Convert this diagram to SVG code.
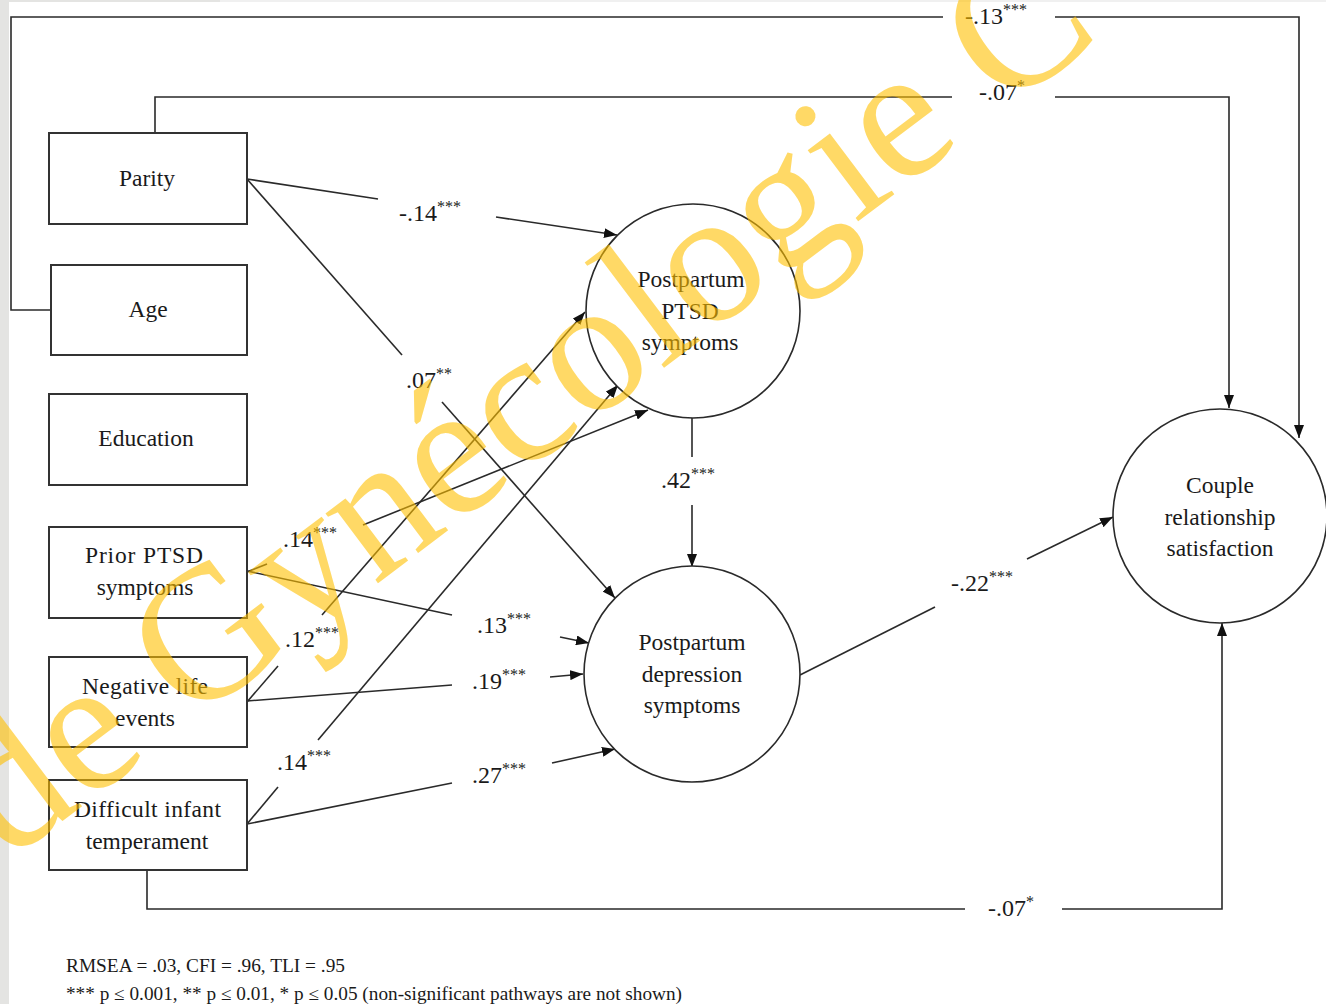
<svg xmlns="http://www.w3.org/2000/svg" width="1326" height="1004" viewBox="0 0 1326 1004">
<style>
.box{fill:#fff;stroke:#333;stroke-width:2}
.circ{fill:#fff;stroke:#2a2a2a;stroke-width:1.6}
.ln{fill:none;stroke:#2a2a2a;stroke-width:1.6}
.t{font-family:"Liberation Serif","Times New Roman",serif;font-size:23.5px;fill:#1a1a1a}
.c{text-anchor:middle}
.lab{font-family:"Liberation Serif","Times New Roman",serif;font-size:24px;fill:#1a1a1a}
.sup{font-size:16px}
.foot{font-family:"Liberation Serif","Times New Roman",serif;font-size:18px;fill:#1a1a1a}
.wm{font-family:"Liberation Serif","Times New Roman",serif;font-size:190px;fill:#FFC000;fill-opacity:0.6}
</style>
<defs>
<marker id="ah" markerUnits="userSpaceOnUse" markerWidth="14" markerHeight="10" refX="13" refY="5" orient="auto">
<path d="M0,0 L13,5 L0,10 z" fill="#111"/>
</marker>
</defs>
<rect width="1326" height="1004" fill="#fff"/>
<rect x="0" y="0" width="1326" height="2" fill="#f0f0f0"/>
<rect x="0" y="0" width="220" height="2" fill="#e4e4e2"/>
<rect x="0" y="0" width="9" height="1004" fill="#e4e4e2"/>

<g id="connectors">
<!-- Age -> Couple -->
<polyline class="ln" points="51,310 11,310 11,17 943,17"/>
<polyline class="ln" points="1055,17 1299,17 1299,438" marker-end="url(#ah)"/>
<!-- Parity -> Couple -->
<polyline class="ln" points="155,133 155,97 952,97"/>
<polyline class="ln" points="1055,97 1229,97 1229,408" marker-end="url(#ah)"/>
<!-- Parity -> PTSD -->
<line class="ln" x1="247" y1="179" x2="378" y2="199"/>
<line class="ln" x1="496" y1="217" x2="617" y2="235" marker-end="url(#ah)"/>
<!-- Parity -> Depression -->
<line class="ln" x1="247" y1="179" x2="402" y2="355"/>
<line class="ln" x1="442" y1="402" x2="615" y2="598" marker-end="url(#ah)"/>
<!-- PTSD -> Depression -->
<line class="ln" x1="692" y1="418" x2="692" y2="457"/>
<line class="ln" x1="692" y1="505" x2="692" y2="567" marker-end="url(#ah)"/>
<!-- Prior PTSD -> PTSD -->
<line class="ln" x1="247" y1="572" x2="267" y2="564"/>
<line class="ln" x1="363" y1="525" x2="648" y2="410" marker-end="url(#ah)"/>
<!-- Prior PTSD -> Depression -->
<line class="ln" x1="247" y1="571" x2="452" y2="615"/>
<line class="ln" x1="560" y1="637" x2="589" y2="643" marker-end="url(#ah)"/>
<!-- Negative life -> PTSD -->
<line class="ln" x1="247" y1="702" x2="278" y2="666"/>
<line class="ln" x1="322" y1="615" x2="585" y2="312" marker-end="url(#ah)"/>
<!-- Negative life -> Depression -->
<line class="ln" x1="247" y1="701" x2="452" y2="685"/>
<line class="ln" x1="550" y1="677" x2="583" y2="674" marker-end="url(#ah)"/>
<!-- Difficult -> PTSD -->
<line class="ln" x1="247" y1="824" x2="278" y2="787"/>
<line class="ln" x1="318" y1="740" x2="618" y2="385" marker-end="url(#ah)"/>
<!-- Difficult -> Depression -->
<line class="ln" x1="247" y1="824" x2="452" y2="783"/>
<line class="ln" x1="552" y1="763" x2="615" y2="749" marker-end="url(#ah)"/>
<!-- Depression -> Couple -->
<line class="ln" x1="800" y1="675" x2="935" y2="607"/>
<line class="ln" x1="1027" y1="559" x2="1113" y2="517" marker-end="url(#ah)"/>
<!-- Difficult -> Couple -->
<polyline class="ln" points="147,870 147,909 965,909"/>
<polyline class="ln" points="1062,909 1222,909 1222,623" marker-end="url(#ah)"/>
</g>

<g id="labels">
<text class="lab" x="965" y="24">-.13<tspan class="sup" dy="-9">***</tspan></text>
<text class="lab" x="979" y="100">-.07<tspan class="sup" dy="-9">*</tspan></text>
<text class="lab" x="399" y="221">-.14<tspan class="sup" dy="-9">***</tspan></text>
<text class="lab" x="406" y="388">.07<tspan class="sup" dy="-9">**</tspan></text>
<text class="lab" x="661" y="488">.42<tspan class="sup" dy="-9">***</tspan></text>
<text class="lab" x="283" y="547">.14<tspan class="sup" dy="-9">***</tspan></text>
<text class="lab" x="285" y="647">.12<tspan class="sup" dy="-9">***</tspan></text>
<text class="lab" x="277" y="770">.14<tspan class="sup" dy="-9">***</tspan></text>
<text class="lab" x="477" y="633">.13<tspan class="sup" dy="-9">***</tspan></text>
<text class="lab" x="472" y="689">.19<tspan class="sup" dy="-9">***</tspan></text>
<text class="lab" x="472" y="783">.27<tspan class="sup" dy="-9">***</tspan></text>
<text class="lab" x="951" y="591">-.22<tspan class="sup" dy="-9">***</tspan></text>
<text class="lab" x="988" y="916">-.07<tspan class="sup" dy="-9">*</tspan></text>
</g>

<g id="parity"><rect class="box" x="49" y="133" width="198" height="91"/><text class="t c" x="147" y="186">Parity</text></g>
<g id="age"><rect class="box" x="51" y="265" width="196" height="90"/><text class="t c" x="148" y="317">Age</text></g>
<g id="education"><rect class="box" x="49" y="394" width="198" height="91"/><text class="t c" x="146" y="446">Education</text></g>
<g id="prior-ptsd"><rect class="box" x="49" y="527" width="198" height="91"/>
<text class="t" x="85" y="563" textLength="118">Prior PTSD</text>
<text class="t c" x="145" y="595">symptoms</text></g>
<g id="negative-life"><rect class="box" x="49" y="657" width="198" height="90"/>
<text class="t" x="82" y="694" textLength="126">Negative life</text>
<text class="t c" x="145" y="726">events</text></g>
<g id="difficult-infant"><rect class="box" x="49" y="780" width="198" height="90"/>
<text class="t" x="74" y="817" textLength="147">Difficult infant</text>
<text class="t c" x="147" y="849">temperament</text></g>

<g id="ptsd"><circle class="circ" cx="693" cy="311" r="107"/>
<text class="t c" x="691" y="287">Postpartum</text>
<text class="t c" x="690" y="319">PTSD</text>
<text class="t c" x="690" y="350">symptoms</text></g>
<g id="depression"><circle class="circ" cx="692" cy="674" r="108"/>
<text class="t c" x="692" y="650">Postpartum</text>
<text class="t c" x="692" y="682">depression</text>
<text class="t c" x="692" y="713">symptoms</text></g>
<g id="couple"><circle class="circ" cx="1220" cy="516" r="107"/>
<text class="t c" x="1220" y="493">Couple</text>
<text class="t c" x="1220" y="525">relationship</text>
<text class="t c" x="1220" y="556">satisfaction</text></g>

<g id="footer">
<text class="foot" x="66" y="972" textLength="279" lengthAdjust="spacingAndGlyphs">RMSEA = .03, CFI = .96, TLI = .95</text>
<text class="foot" x="66" y="1000" textLength="616" lengthAdjust="spacingAndGlyphs">*** p ≤ 0.001, ** p ≤ 0.01, * p ≤ 0.05 (non-significant  pathways are not shown)</text>
</g>

<g id="watermark">
<text class="wm" x="0" y="0" transform="translate(8,862) rotate(-37)">de Gynécologie C</text>
</g>
</svg>
